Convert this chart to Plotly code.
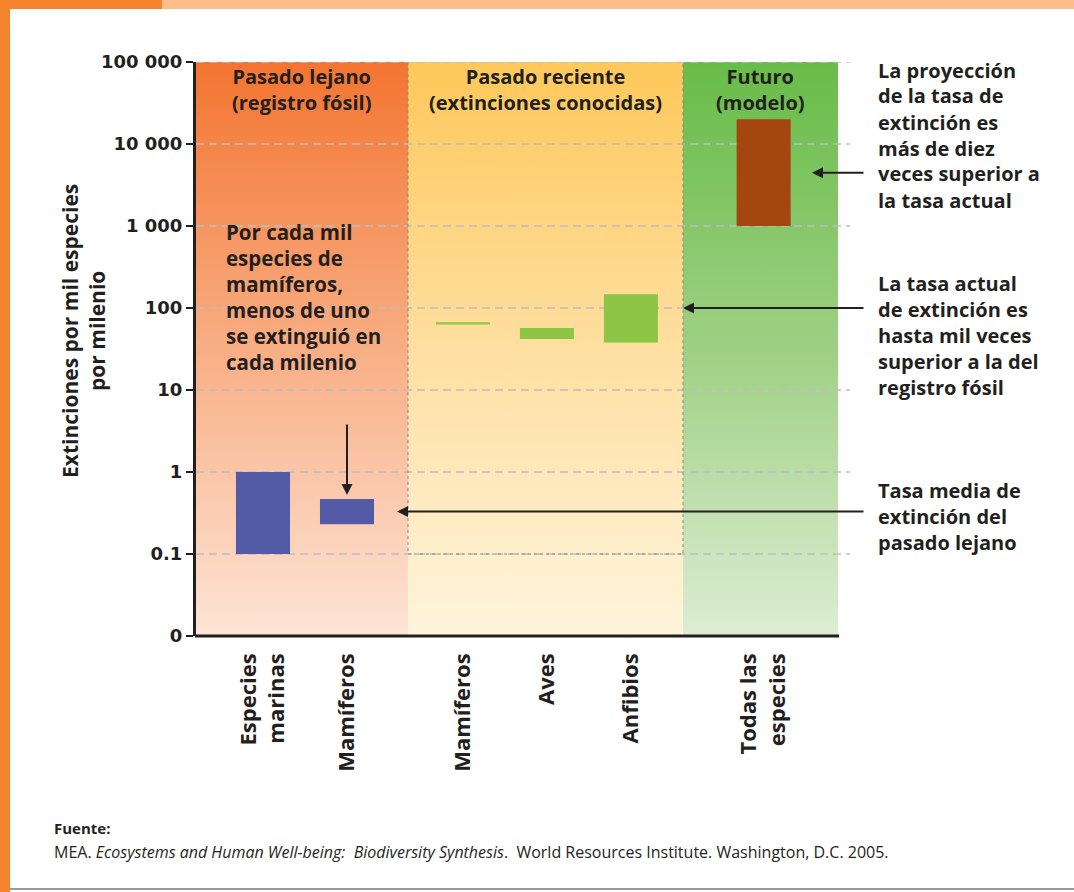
import plotly.graph_objects as go
import math

# ---------------- data ----------------
categories = ["Especies<br>marinas", "Mamíferos", "Mamíferos", "Aves", "Anfibios", "Todas las<br>especies"]
groups = ["fossil", "fossil", "recent", "recent", "recent", "future"]
rate_low = [0.1, 0.23, 63, 42, 38, 1000]
rate_high = [1.0, 0.47, 67, 57, 147, 20000]

y_tickvals = [0.01, 0.1, 1, 10, 100, 1000, 10000, 100000]
y_ticktext = ["0", "0.1", "1", "10", "100", "1 000", "10 000", "100 000"]

region_names = ["fossil", "recent", "future"]
region_titles = ["Pasado lejano<br>(registro fósil)",
                 "Pasado reciente<br>(extinciones conocidas)",
                 "Futuro<br>(modelo)"]

note_left = ["Por cada mil", "especies de", "mamíferos,", "menos de uno", "se extinguió en", "cada milenio"]
note_future = ["La proyección", "de la tasa de", "extinción es", "más de diez", "veces superior a", "la tasa actual"]
note_current = ["La tasa actual", "de extinción es", "hasta mil veces", "superior a la del", "registro fósil"]
note_past = ["Tasa media de", "extinción del", "pasado lejano"]

y_title = "Extinciones por mil especies<br>por milenio"
source_head = "Fuente:"
source_text = ("MEA. <i>Ecosystems and Human Well-being:  Biodiversity Synthesis</i>.  "
               "World Resources Institute. Washington, D.C. 2005.")

# ---------------- layout constants ----------------
W, H = 1074, 892
PL, PR, PT, PB = 196, 850, 62, 636        # plot area in px
UNIT = 84.0                                # px per x unit
X0PX = 263                                 # px of first category
x_range = [(PL - X0PX) / UNIT, (PR - X0PX) / UNIT]
group_start = {"fossil": 0.0, "recent": 2.38, "future": 5.96}
region_edges = [x_range[0], 1.726, 5.0, 6.845]
bar_w = 0.643
Y_MIN, Y_MAX = 0.01, 100000

x_pos = []
_count = {}
for g in groups:
    k = _count.get(g, 0)
    x_pos.append(group_start[g] + k)
    _count[g] = k + 1

colors = {"fossil": "#545BA6", "recent": "#8CC644", "future": "#A4460F"}
bg_scales = {
    "fossil": [[0, "#FDE4D6"], [0.5, "#F8AE84"], [1, "#F37430"]],
    "recent": [[0, "#FEF4DD"], [0.5, "#FEDFA0"], [1, "#FEC85A"]],
    "future": [[0, "#DDEDD4"], [0.5, "#9ED083"], [1, "#68BC48"]],
}
DARK = "#231F20"
FONT = "Open Sans"
TXT = 20


def px_x(px):
    return (px - PL) / (PR - PL)


def px_y(py):
    return (PB - py) / (PB - PT)


fig = go.Figure()

# background gradients
for i, name in enumerate(region_names):
    x0, x1 = region_edges[i], region_edges[i + 1]
    fig.add_trace(go.Scatter(
        x=[x0, x1, x1, x0, x0], y=[Y_MIN, Y_MIN, Y_MAX, Y_MAX, Y_MIN],
        mode="lines", line=dict(width=0), fill="toself",
        fillgradient=dict(type="vertical", colorscale=bg_scales[name]),
        hoverinfo="skip", showlegend=False))

# dashed grid lines
gx, gy = [], []
for v in y_tickvals[1:]:
    gx += [x_range[0], x_range[1], None]
    gy += [v, v, None]
fig.add_trace(go.Scatter(x=gx, y=gy, mode="lines",
                         line=dict(color="#BDBDBD", width=1.5, dash="8px,5px"),
                         hoverinfo="skip", showlegend=False))

# dotted frame of the recent region
rx0, rx1 = region_edges[1], region_edges[2]
fig.add_trace(go.Scatter(x=[rx0, rx0, rx1, rx1], y=[Y_MAX, 0.1, 0.1, Y_MAX],
                         mode="lines", line=dict(color="#8A8A8A", width=1, dash="dot"),
                         hoverinfo="skip", showlegend=False))

# bars (floating ranges), drawn as filled rectangles above the backgrounds
for i in range(len(categories)):
    xl, xr = x_pos[i] - bar_w / 2, x_pos[i] + bar_w / 2
    lo, hi = rate_low[i], rate_high[i]
    fig.add_trace(go.Scatter(
        x=[xl, xr, xr, xl, xl], y=[lo, lo, hi, hi, lo],
        mode="lines", line=dict(width=0), fill="toself",
        fillcolor=colors[groups[i]], hoverinfo="skip", showlegend=False))

ann = []
# region titles
for i, t in enumerate(region_titles):
    ann.append(dict(x=(region_edges[i] + region_edges[i + 1]) / 2, y=1, xref="x", yref="paper",
                    yanchor="top", yshift=1, text=t, showarrow=False,
                    font=dict(family=FONT, size=TXT, weight="bold", color=DARK)))


def add_lines(lines, x_px, y_first, spacing=26, size=TXT):
    for k, s in enumerate(lines):
        ann.append(dict(x=px_x(x_px), y=px_y(y_first + k * spacing), xref="paper", yref="paper",
                        xanchor="left", yanchor="middle", text=s, showarrow=False,
                        font=dict(family=FONT, size=size, weight="bold", color=DARK)))


add_lines(note_left, 224, 232, size=20.5)
add_lines(note_future, 876, 70)
add_lines(note_current, 876, 283)
add_lines(note_past, 876, 490)

arrow_style = dict(showarrow=True, arrowhead=2, arrowsize=1.1, arrowwidth=2, arrowcolor=DARK, text="")
# arrow down onto fossil mammals
ann.append(dict(x=x_pos[1], y=math.log10(rate_high[1]), xref="x", yref="y",
                ax=0, ay=-76, standoff=4, **arrow_style))
# arrows pointing left
tail_x = (865 - X0PX) / UNIT
heads = [
    ((812 - X0PX) / UNIT, math.log10(math.sqrt(rate_low[5] * rate_high[5]))),
    (region_edges[2], 2.0),
    ((397 - X0PX) / UNIT, math.log10(math.sqrt(rate_low[1] * rate_high[1]))),
]
for hx, hy in heads:
    ann.append(dict(x=hx, y=hy, xref="x", yref="y", axref="x", ayref="y",
                    ax=tail_x, ay=hy, **arrow_style))

# y-axis title
ann.append(dict(x=px_x(83), y=px_y(331), xref="paper", yref="paper", text=y_title,
                textangle=-90, showarrow=False, xanchor="center", yanchor="middle",
                font=dict(family=FONT, size=21, weight="bold", color=DARK)))

# source
ann.append(dict(x=px_x(52), y=px_y(828), xref="paper", yref="paper", text=source_head,
                showarrow=False, xanchor="left", yanchor="middle",
                font=dict(family=FONT, size=15, weight="bold", color=DARK)))
ann.append(dict(x=px_x(52), y=px_y(852), xref="paper", yref="paper", text=source_text,
                showarrow=False, xanchor="left", yanchor="middle",
                font=dict(family=FONT, size=16, color=DARK)))

shapes = [
    # bottom axis line
    dict(type="line", xref="paper", yref="paper", x0=px_x(PL - 1), x1=px_x(839), y0=0, y1=0,
         line=dict(color=DARK, width=3), layer="above"),
    # frame
    dict(type="rect", xref="paper", yref="paper", x0=px_x(0), x1=px_x(162), y0=px_y(0), y1=px_y(9),
         fillcolor="#F5832B", line=dict(width=0)),
    dict(type="rect", xref="paper", yref="paper", x0=px_x(162), x1=px_x(W), y0=px_y(0), y1=px_y(9),
         fillcolor="#FDBE89", line=dict(width=0)),
    dict(type="rect", xref="paper", yref="paper", x0=px_x(0), x1=px_x(10), y0=px_y(0), y1=px_y(H),
         fillcolor="#F5832B", line=dict(width=0)),
    dict(type="line", xref="paper", yref="paper", x0=px_x(10), x1=px_x(W), y0=px_y(889), y1=px_y(889),
         line=dict(color="#9A9A9A", width=2)),
]

fig.update_layout(
    width=W, height=H,
    margin=dict(l=PL, r=W - PR, t=PT, b=H - PB, pad=0),
    paper_bgcolor="white", plot_bgcolor="white",
    showlegend=False,
    annotations=ann, shapes=shapes,
    xaxis=dict(range=x_range, tickvals=x_pos, ticktext=categories, tickangle=-90,
               showgrid=False, zeroline=False, showline=False, ticks="",
               ticklabelstandoff=12, fixedrange=True,
               tickfont=dict(family=FONT, size=22, weight="bold", color=DARK)),
    yaxis=dict(type="log", range=[math.log10(Y_MIN), math.log10(Y_MAX)],
               tickvals=y_tickvals, ticktext=y_ticktext, fixedrange=True,
               showgrid=False, zeroline=False, showline=True, linecolor=DARK, linewidth=3,
               ticks="outside", ticklen=7, tickwidth=2, tickcolor=DARK,
               tickfont=dict(family="DejaVu Sans", size=18, weight="bold", color=DARK)),
)

fig.write_html("out.html", config={"displayModeBar": False},
               post_script="document.body.style.margin='0px';")
